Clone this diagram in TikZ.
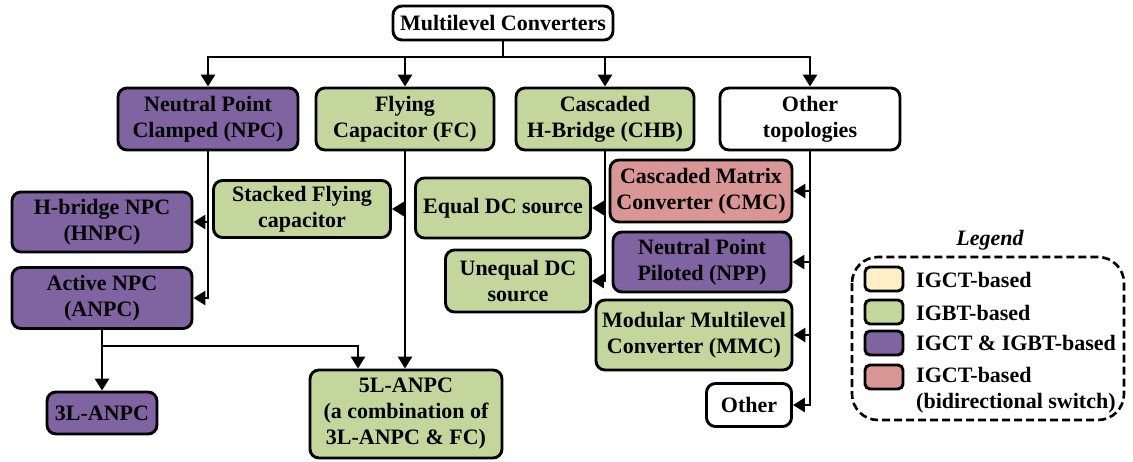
\documentclass[tikz,border=0pt]{standalone}
\usepackage{fontspec}
\setmainfont{Liberation Serif}
\usetikzlibrary{arrows.meta,calc}
\definecolor{igbt}{HTML}{C3D69B}
\definecolor{mixed}{HTML}{8064A2}
\definecolor{bidir}{HTML}{D99694}
\definecolor{igct}{HTML}{FFF0C8}
\tikzset{
  box/.style={draw, line width=2.9pt, rounded corners=9pt, align=center,
    inner sep=0pt, font=\fontsize{22}{26}\selectfont\bfseries},
  arr/.style={line width=2.8pt, -{Triangle[length=12pt,width=14pt]}},
  wire/.style={line width=2.8pt},
  swatch/.style={draw, line width=2.9pt, rounded corners=5pt,
    minimum width=38pt, minimum height=24pt, inner sep=0pt},
  legtext/.style={anchor=west, align=left, inner sep=0pt,
    font=\fontsize{22}{26}\selectfont\bfseries}
}
\begin{document}
\begin{tikzpicture}[x=1pt,y=-1pt]
\useasboundingbox (0,0) rectangle (1133,461);

% main categories
\node[box, fill=white, minimum width=220pt, minimum height=34pt] (mc) at (503,23) {Multilevel Converters};
\node[box, fill=mixed, minimum width=180pt, minimum height=62pt] (npc) at (208,119) {Neutral Point\\Clamped (NPC)};
\node[box, fill=igbt, minimum width=178pt, minimum height=62pt] (fc) at (405,119) {Flying\\Capacitor (FC)};
\node[box, fill=igbt, minimum width=178pt, minimum height=62pt] (chb) at (605,119) {Cascaded\\H-Bridge (CHB)};
\node[box, fill=white, minimum width=180pt, minimum height=62pt] (oth) at (810,119) {Other\\topologies};

% NPC family
\node[box, fill=mixed, minimum width=180pt, minimum height=60pt] (hnpc) at (102,222) {H-bridge NPC\\(HNPC)};
\node[box, fill=mixed, minimum width=180pt, minimum height=61pt] (anpc) at (102,298) {Active NPC\\(ANPC)};
\node[box, fill=mixed, minimum width=110pt, minimum height=42pt] (threel) at (102,413) {3L-ANPC};
\node[box, fill=igbt, minimum width=192pt, minimum height=88pt] (fivel) at (406,414) {5L-ANPC\\(a combination of\\3L-ANPC \& FC)};

% FC family
\node[box, fill=igbt, minimum width=177pt, minimum height=57pt] (sfc) at (302,209) {Stacked Flying\\capacitor};

% CHB family
\node[box, fill=igbt, minimum width=175pt, minimum height=60pt] (edc) at (503,208) {Equal DC source};
\node[box, fill=igbt, minimum width=145pt, minimum height=62pt] (udc) at (518,281) {Unequal DC\\source};

% other topologies
\node[box, fill=bidir, minimum width=182pt, minimum height=62pt] (cmc) at (701,191) {Cascaded Matrix\\Converter (CMC)};
\node[box, fill=mixed, minimum width=178pt, minimum height=60pt] (npp) at (702,262) {Neutral Point\\Piloted (NPP)};
\node[box, fill=igbt, minimum width=196pt, minimum height=70pt] (mmc) at (694,335) {Modular Multilevel\\Converter (MMC)};
\node[box, fill=white, minimum width=85pt, minimum height=43pt] (other) at (749,405) {Other};

% top-level bus
\coordinate (bus) at (505,57);
\draw[wire] (mc.south) -- (mc.south |- bus);
\draw[arr] (mc.south |- bus) -| (npc.north);
\draw[arr] (mc.south |- bus) -| (fc.north);
\draw[arr] (mc.south |- bus) -| (chb.north);
\draw[arr] (mc.south |- bus) -| (oth.north);

% NPC branches
\draw[arr] (npc.south) |- (anpc.east);
\draw[arr] (npc.south |- hnpc.east) -- (hnpc.east);

% FC branches
\draw[arr] (fc.south) -- (fc.south |- fivel.north);
\draw[arr] (fc.south |- sfc.east) -- (sfc.east);

% ANPC branches
\coordinate (split) at (102,346);
\draw[arr] (anpc.south) -- (threel.north);
\draw[arr] (anpc.south |- split) -| ($(fivel.north)+(-48,0)$);

% CHB branches
\draw[arr] (chb.south) |- (udc.east);
\draw[arr] (chb.south |- edc.east) -- (edc.east);

% other-topology branches
\draw[arr] (oth.south) |- (other.east);
\draw[arr] (oth.south |- cmc.east) -- (cmc.east);
\draw[arr] (oth.south |- npp.east) -- (npp.east);
\draw[arr] (oth.south |- mmc.east) -- (mmc.east);

% legend
\node[font=\fontsize{22}{26}\selectfont\bfseries\itshape] (legtitle) at (990,240) {Legend};
\draw[line width=2.6pt, dash pattern=on 8pt off 4pt, rounded corners=26pt] (852,257) rectangle (1124,420);
\node[swatch, fill=igct] (s1) at (884,279) {};
\node[swatch, fill=igbt] (s2) at (884,312) {};
\node[swatch, fill=mixed] (s3) at (884,343) {};
\node[swatch, fill=bidir] (s4) at (884,377) {};
\node[legtext] (t1) at (916,280) {IGCT-based};
\node[legtext] (t2) at (916,313) {IGBT-based};
\node[legtext] (t3) at (916,343) {IGCT \& IGBT-based};
\node[legtext] (t4) at (916,390) {IGCT-based\\(bidirectional switch)};
\end{tikzpicture}
\end{document}
